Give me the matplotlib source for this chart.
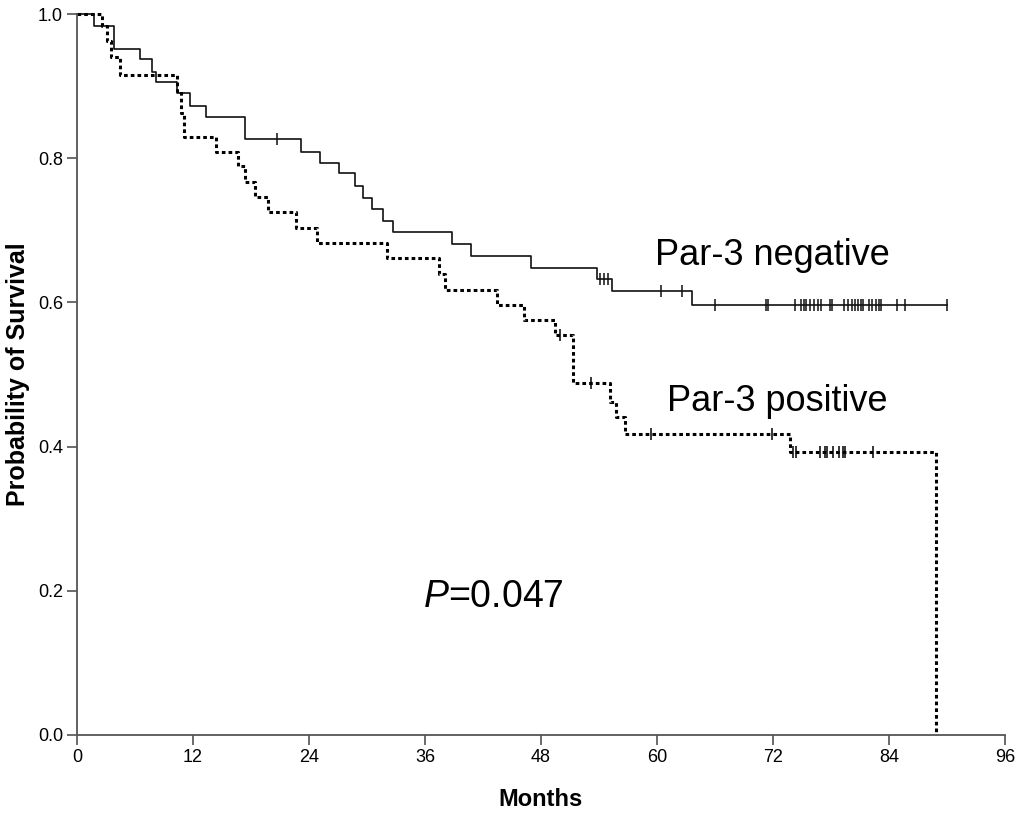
import numpy as np
from matplotlib import pyplot as plt

plt.rcParams["font.family"] = ["Liberation Sans", "DejaVu Sans"]
plt.rcParams["mathtext.fontset"] = "custom"
plt.rcParams["mathtext.it"] = "Liberation Sans:italic"
plt.rcParams["mathtext.rm"] = "Liberation Sans"

# Par-3 negative: event times (months) and survival after each event
neg_times = [1.8, 3.8, 6.5, 7.8, 8.2, 10.3, 11.7, 13.3, 17.4, 23.2, 25.1, 27.1,
             28.8, 29.6, 30.5, 31.7, 32.7, 38.8, 40.8, 47.0, 53.8, 55.3, 63.6]
neg_surv = [0.984, 0.952, 0.938, 0.920, 0.905, 0.890, 0.872, 0.857, 0.826, 0.809,
            0.794, 0.779, 0.762, 0.745, 0.729, 0.713, 0.697, 0.681, 0.665, 0.648,
            0.632, 0.616, 0.597]
neg_end = 90.0
neg_censor = [20.7, 54.1, 54.5, 54.9, 60.4, 62.6, 66.0, 71.3, 71.5, 74.3, 74.9,
              75.2, 75.4, 75.8, 76.2, 76.7, 77.0, 77.9, 78.1, 79.4, 79.8, 80.2,
              80.5, 80.8, 81.1, 81.3, 81.9, 82.2, 82.7, 83.0, 83.2, 84.8, 85.7, 90.0]

# Par-3 positive
pos_times = [2.6, 3.1, 3.5, 4.45, 10.3, 10.8, 11.1, 14.4, 16.7, 17.4, 18.4, 19.8,
             22.7, 24.8, 32.1, 37.4, 38.1, 43.5, 46.2, 49.4, 51.3, 55.1, 55.8,
             56.7, 73.8, 88.9]
pos_surv = [0.983, 0.962, 0.941, 0.915, 0.893, 0.862, 0.830, 0.808, 0.789, 0.767,
            0.746, 0.726, 0.703, 0.682, 0.661, 0.640, 0.617, 0.596, 0.576, 0.555,
            0.488, 0.462, 0.441, 0.418, 0.393, 0.0]
pos_censor = [50.0, 53.2, 59.4, 71.9, 74.1, 74.4, 76.9, 77.4, 77.6, 78.2, 78.8,
              79.2, 79.5, 82.4]

x_ticks = [0, 12, 24, 36, 48, 60, 72, 84, 96]
y_ticks = [0.0, 0.2, 0.4, 0.6, 0.8, 1.0]


def km_at(times, surv, t):
    tt = np.r_[0.0, times]
    ss = np.r_[1.0, surv]
    idx = np.searchsorted(tt, t, side="right") - 1
    return ss[idx]


fig = plt.figure(figsize=(10.24, 8.19), dpi=100)
ax = fig.add_axes([0.0752, 0.1026, 0.9062, 0.8803])

# negative curve (solid)
tx = np.r_[0.0, neg_times, neg_end]
sy = np.r_[1.0, neg_surv, neg_surv[-1]]
ax.step(tx, sy, where="post", color="#111111", lw=1.2, clip_on=False)
ax.plot(neg_censor, km_at(neg_times, neg_surv, np.array(neg_censor)), ls="none",
        marker="|", ms=8, mew=1.1, color="#111111", clip_on=False)

# positive curve (dotted)
tx = np.r_[0.0, pos_times]
sy = np.r_[1.0, pos_surv]
ax.step(tx, sy, where="post", color="black", lw=2.2, dashes=(1.2, 1.0),
        clip_on=False)
ax.plot(pos_censor, km_at(pos_times, pos_surv, np.array(pos_censor)), ls="none",
        marker="|", ms=8, mew=1.1, color="black", clip_on=False)

ax.set_xlim(0, 96)
ax.set_ylim(0, 1.0)
ax.set_xticks(x_ticks)
ax.set_xticklabels([str(v) for v in x_ticks])
ax.set_yticks(y_ticks)
ax.set_yticklabels(["%.1f" % v for v in y_ticks])
ax.tick_params(direction="out", length=7, width=1.1, color="#444444",
               labelsize=13, pad=3)

for s in ["top", "right"]:
    ax.spines[s].set_visible(False)
for s in ["left", "bottom"]:
    ax.spines[s].set_color("#555555")
    ax.spines[s].set_linewidth(1.3)

ax.set_xlabel("Months", fontsize=17, fontweight="bold", labelpad=16)
ax.set_ylabel("Probability of Survival", fontsize=18, fontweight="bold",
              labelpad=6)

ax.text(59.8, 0.652, "Par-3 negative", fontsize=26, ha="left", va="baseline")
ax.text(61.0, 0.45, "Par-3 positive", fontsize=26, ha="left", va="baseline")
ax.text(35.8, 0.178, r"$\mathit{P}$=0.047", fontsize=27, ha="left", va="baseline")

fig.savefig("out.png", dpi=100)
